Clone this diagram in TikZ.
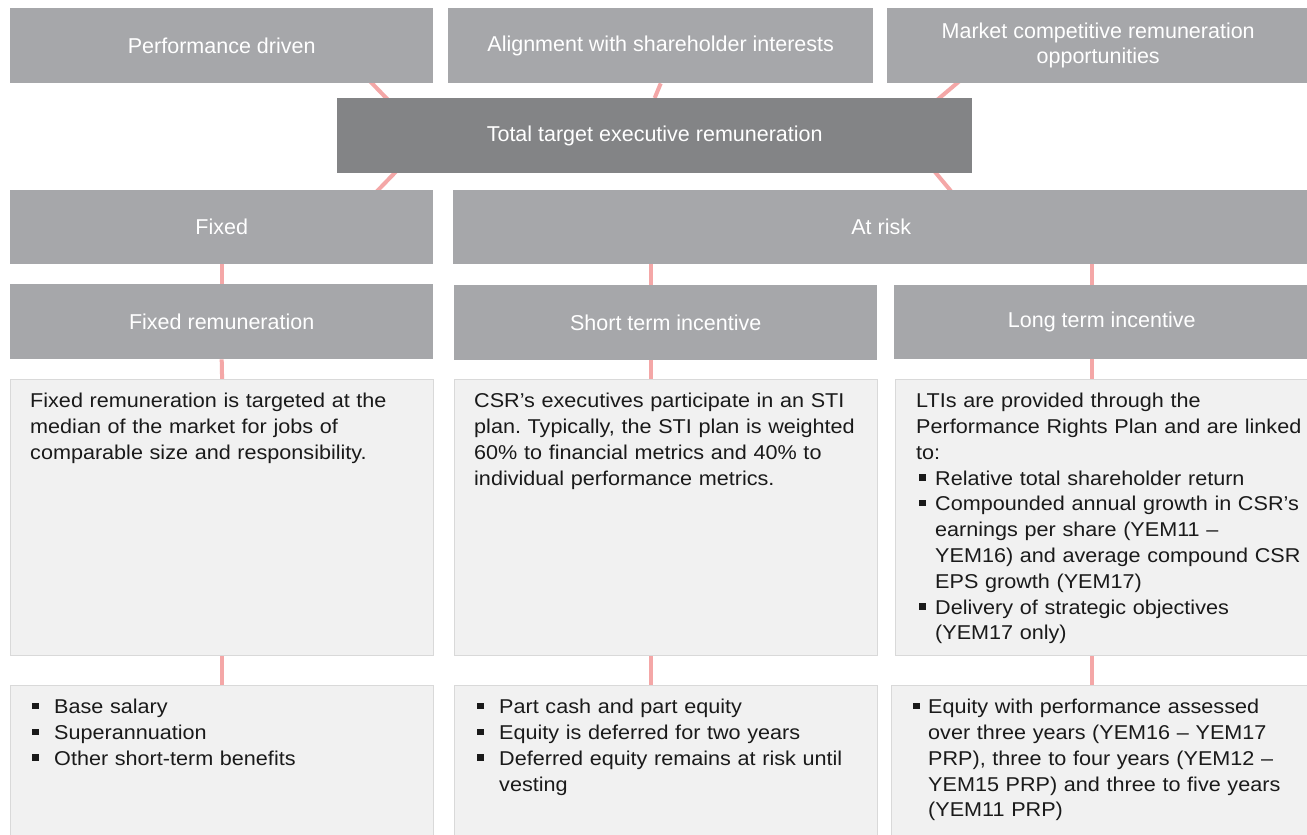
\documentclass[tikz,border=0pt]{standalone}
\usepackage{fontspec}
\setmainfont{Liberation Sans}
\newfontfamily\bodyfont[FakeStretch=1.08]{Liberation Sans}
\usetikzlibrary{backgrounds}
\definecolor{hdrgray}{HTML}{A6A7AA}
\definecolor{totgray}{HTML}{838486}
\definecolor{panefill}{HTML}{F1F1F1}
\definecolor{paneline}{HTML}{D9D9D9}
\definecolor{linkpink}{HTML}{F4A7A7}
\definecolor{inktext}{HTML}{1A1A1A}
\frenchspacing
\newcommand{\lnup}{\rule{0pt}{16pt}}
% bullet that opens a paragraph (#1 = space before square, #2 = hanging indent)
\newcommand{\sqhead}[2]{\hangindent=#2\hangafter=1\makebox[#2][l]{\hspace{#1}\raisebox{4.5pt}{\rule{6.5pt}{6.5pt}}}\lnup\ignorespaces}
\newcommand{\sqitem}[2]{\par\noindent\sqhead{#1}{#2}}
\begin{document}
\begin{tikzpicture}[x=1pt, y=-1pt]
	\tikzset{hdr/.style={anchor=north west, fill=hdrgray, inner sep=0pt, text=white, align=center, font=\fontsize{21.5}{25}\selectfont}}
	\tikzset{pane/.style={anchor=north west, fill=panefill, draw=paneline, line width=1.2pt, inner sep=0pt}}
	\tikzset{blurb/.style={anchor=north west, inner sep=0pt, text=inktext, text width=410pt, align=left, font=\bodyfont\fontsize{20}{25.8}\selectfont}}
	\tikzset{link/.style={draw=linkpink, line width=4pt}}
	\useasboundingbox (0,0) rectangle (1307,835);
	% principles
	\node[hdr, minimum width=423pt, minimum height=75pt] at (10,8) (perf) {Performance driven};
	\node[hdr, minimum width=425pt, minimum height=75pt] at (448,8) (align) {Alignment with shareholder interests};
	\node[hdr, minimum width=422pt, minimum height=75pt] at (887,8) (market) {Market competitive remuneration\\opportunities};
	\node[hdr, fill=totgray, minimum width=635pt, minimum height=75pt] at (337,98) (total) {Total target executive remuneration};
	% split
	\node[hdr, minimum width=423pt, minimum height=74pt] at (10,190) (fixed) {Fixed};
	\node[hdr, minimum width=856pt, minimum height=74pt] at (453,190) (risk) {At risk};
	% elements
	\node[hdr, minimum width=423pt, minimum height=75pt] at (10,284) (fixrem) {Fixed remuneration};
	\node[hdr, minimum width=423pt, minimum height=75pt] at (454,285) (sti) {Short term incentive};
	\node[hdr, minimum width=415pt, minimum height=74pt] at (894,285) (lti) {Long term incentive};
	% descriptions
	\node[pane, minimum width=423pt, minimum height=276pt] at (10,379) (fixtxt) {};
	\node[pane, minimum width=423pt, minimum height=276pt] at (454,379) (stitxt) {};
	\node[pane, minimum width=416pt, minimum height=276pt] at (895,379) (ltitxt) {};
	\node[pane, minimum width=423pt, minimum height=160pt] at (10,685) (fixpay) {};
	\node[pane, minimum width=423pt, minimum height=160pt] at (454,685) (stipay) {};
	\node[pane, minimum width=420pt, minimum height=160pt] at (891,685) (ltipay) {};
	\node[blurb] at ([xshift=20pt, yshift=-12.5pt]fixtxt.north west) (fixtxtA) {\lnup Fixed remuneration is targeted at the\newline median of the market for jobs of\newline comparable size and responsibility.\par};
	\node[blurb] at ([xshift=20pt, yshift=-12.5pt]stitxt.north west) (stitxtA) {\lnup CSR’s executives participate in an STI\newline plan. Typically, the STI plan is weighted\newline 60\% to financial metrics and 40\% to\newline individual performance metrics.\par};
	\node[blurb] at ([xshift=21pt, yshift=-12.5pt]ltitxt.north west) (ltitxtA) {\lnup LTIs are provided through the\newline Performance Rights Plan and are linked\newline to:
		\sqitem{3pt}{19pt}Relative total shareholder return
		\sqitem{3pt}{19pt}Compounded annual growth in CSR’s\newline earnings per share (YEM11 –\newline YEM16) and average compound CSR\newline EPS growth (YEM17)
		\sqitem{3pt}{19pt}Delivery of strategic objectives\newline (YEM17 only)\par};
	\node[blurb] at ([xshift=20pt, yshift=-12.5pt]fixpay.north west) (fixpayA) {\sqhead{2pt}{24pt}Base salary
		\sqitem{2pt}{24pt}Superannuation
		\sqitem{2pt}{24pt}Other short-term benefits\par};
	\node[blurb] at ([xshift=21pt, yshift=-12.5pt]stipay.north west) (stipayA) {\sqhead{2pt}{24pt}Part cash and part equity
		\sqitem{2pt}{24pt}Equity is deferred for two years
		\sqitem{2pt}{24pt}Deferred equity remains at risk until\newline vesting\par};
	\node[blurb] at ([xshift=22pt, yshift=-12.5pt]ltipay.north west) (ltipayA) {\sqhead{0pt}{15pt}Equity with performance assessed\newline over three years (YEM16 – YEM17\newline PRP), three to four years (YEM12 –\newline YEM15 PRP) and three to five years\newline (YEM11 PRP)\par};
	% links behind the boxes
	\coordinate (colS) at (651,0);
	\coordinate (colL) at (1092,0);
	\begin{scope}[on background layer]
		\fill[white] (0,0) rectangle (1307,835);
		\draw[link] ([xshift=-68pt, yshift=7pt]perf.south east) -- ([xshift=55pt, yshift=-6pt]total.north west);
		\draw[link] (align.south) -- (total.north);
		\draw[link] ([xshift=78pt, yshift=7pt]market.south west) -- ([xshift=-40pt, yshift=-6pt]total.north east);
		\draw[link] ([xshift=64pt, yshift=7pt]total.south west) -- ([xshift=-61pt, yshift=-6pt]fixed.north east);
		\draw[link] ([xshift=-42pt, yshift=7pt]total.south east) -- ([xshift=502pt, yshift=-6pt]risk.north west);
		\draw[link] (fixed.south) -- (fixrem.north);
		\draw[link] (fixrem.south) -- (fixtxt.north);
		\draw[link] (fixtxt.south) -- (fixpay.north);
		\draw[link] (risk.south -| colS) -- (sti.north -| colS);
		\draw[link] (sti.south -| colS) -- (stitxt.north -| colS);
		\draw[link] (stitxt.south -| colS) -- (stipay.north -| colS);
		\draw[link] (risk.south -| colL) -- (lti.north -| colL);
		\draw[link] (lti.south -| colL) -- (ltitxt.north -| colL);
		\draw[link] (ltitxt.south -| colL) -- (ltipay.north -| colL);
	\end{scope}
\end{tikzpicture}
\end{document}
